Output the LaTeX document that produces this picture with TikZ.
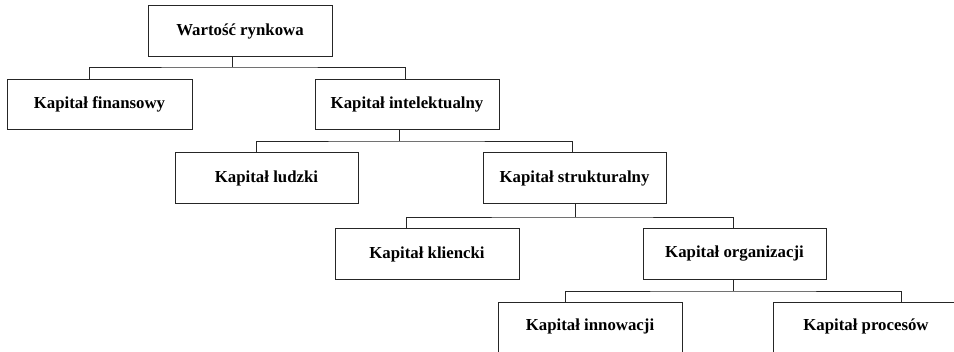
\documentclass[tikz,border=0pt]{standalone}
\usepackage{fontspec}
\setmainfont{Liberation Serif}
\begin{document}
\begin{tikzpicture}[x=1pt,y=-1pt,
  box/.style={draw=black!85, line width=0.9pt, rectangle, inner sep=0pt,
    minimum height=50.5pt, font=\fontsize{16.8}{19}\selectfont\bfseries},
  link/.style={draw=black!85, line width=0.9pt}]
\useasboundingbox (0,0) rectangle (954,352);
\clip (0,0) rectangle (954,352);

% boxes of the hierarchy
\node[box, minimum width=184pt] (top) at (240,31)    {Wartość rynkowa};
\node[box, minimum width=185pt] (fin) at (99.5,104.5) {Kapitał finansowy};
\node[box, minimum width=184pt] (int) at (407,104.5)  {Kapitał intelektualny};
\node[box, minimum width=183pt] (lud) at (266.5,178)  {Kapitał ludzki};
\node[box, minimum width=183pt] (str) at (574.5,178)  {Kapitał strukturalny};
\node[box, minimum width=184pt] (kli) at (427,254)    {Kapitał kliencki};
\node[box, minimum width=183pt] (org) at (734.5,254)  {Kapitał organizacji};
\node[box, minimum width=184pt, minimum height=60pt] (inn) at (590,332) {\raisebox{14pt}{Kapitał innowacji}};
\node[box, minimum width=186pt, minimum height=60pt] (pro) at (866,332) {\raisebox{14pt}{Kapitał procesów}};

% junctions of the tree branches
\coordinate (j1) at (232,67);
\coordinate (j2) at (399,141);
\coordinate (j3) at (575,217);
\coordinate (j4) at (733,291);

% connectors
\draw[link] (top.south -| j1) -- (j1);
\draw[link] ([xshift=-10.5pt]fin.north) |- (j1) -| ([xshift=-2pt]int.north);
\draw[link] (int.south -| j2) -- (j2);
\draw[link] ([xshift=-10.5pt]lud.north) |- (j2) -| ([xshift=-2.5pt]str.north);
\draw[link] (str.south -| j3) -- (j3);
\draw[link] ([xshift=-21pt]kli.north) |- (j3) -| ([xshift=-1.5pt]org.north);
\draw[link] (org.south -| j4) -- (j4);
\draw[link] ([xshift=-25pt]inn.north) |- (j4) -| ([xshift=35pt]pro.north);
\end{tikzpicture}
\end{document}
